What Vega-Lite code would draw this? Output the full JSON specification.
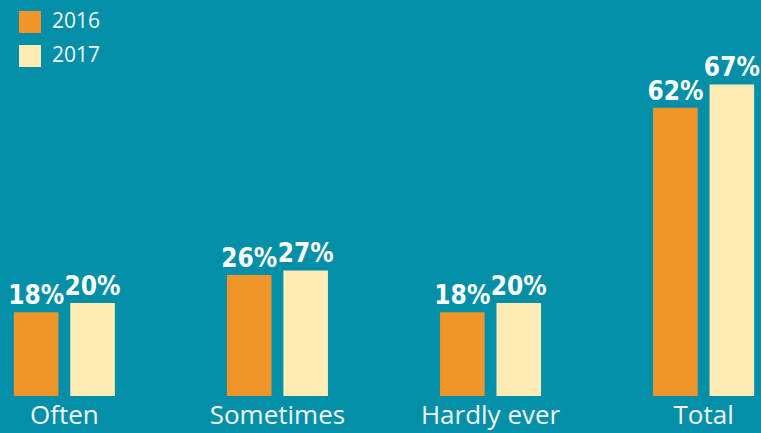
{
  "$schema": "https://vega.github.io/schema/vega-lite/v6.json",
  "width": 768,
  "height": 396,
  "padding": {"left": 0, "top": 0, "right": 0, "bottom": 37},
  "autosize": {"type": "none"},
  "background": "#048fa8",
  "config": {"view": {"stroke": null}},
  "data": {
    "values": [
      {"category": "Often", "year": "2016", "value": 0.18},
      {"category": "Often", "year": "2017", "value": 0.20},
      {"category": "Sometimes", "year": "2016", "value": 0.26},
      {"category": "Sometimes", "year": "2017", "value": 0.27},
      {"category": "Hardly ever", "year": "2016", "value": 0.18},
      {"category": "Hardly ever", "year": "2017", "value": 0.20},
      {"category": "Total", "year": "2016", "value": 0.62},
      {"category": "Total", "year": "2017", "value": 0.67}
    ]
  },
  "encoding": {
    "x": {
      "field": "category",
      "type": "nominal",
      "sort": ["Often", "Sometimes", "Hardly ever", "Total"],
      "scale": {"paddingInner": 0.526, "paddingOuter": 0.065},
      "axis": {
        "title": null,
        "domain": false,
        "ticks": false,
        "labelAngle": 0,
        "labelFont": "Open Sans",
        "labelFontSize": 26,
        "labelColor": "#eef6f7",
        "labelPadding": 6,
        "labelBaseline": "top"
      }
    },
    "xOffset": {
      "field": "year",
      "type": "nominal",
      "scale": {"paddingInner": 0.21, "paddingOuter": 0}
    },
    "y": {
      "field": "value",
      "type": "quantitative",
      "scale": {"domain": [0, 0.8516], "nice": false},
      "axis": null
    }
  },
  "layer": [
    {
      "mark": {"type": "bar"},
      "encoding": {
        "color": {
          "field": "year",
          "type": "nominal",
          "scale": {"domain": ["2016", "2017"], "range": ["#f0952a", "#fdedb5"]},
          "legend": {
            "title": null,
            "orient": "none",
            "legendX": 19,
            "legendY": 11,
            "symbolType": "square",
            "symbolSize": 484,
            "symbolStrokeWidth": 0,
            "labelFont": "Open Sans",
            "labelFontSize": 21,
            "labelColor": "#eef6f7",
            "labelOffset": 11,
            "rowPadding": 12
          }
        }
      }
    },
    {
      "mark": {
        "type": "text",
        "baseline": "alphabetic",
        "dy": -8,
        "font": "DejaVu Sans Condensed",
        "fontWeight": "bold",
        "fontSize": 26,
        "color": "white"
      },
      "encoding": {
        "text": {"field": "value", "type": "quantitative", "format": ".0%"},
        "detail": {"field": "year"}
      }
    }
  ]
}
